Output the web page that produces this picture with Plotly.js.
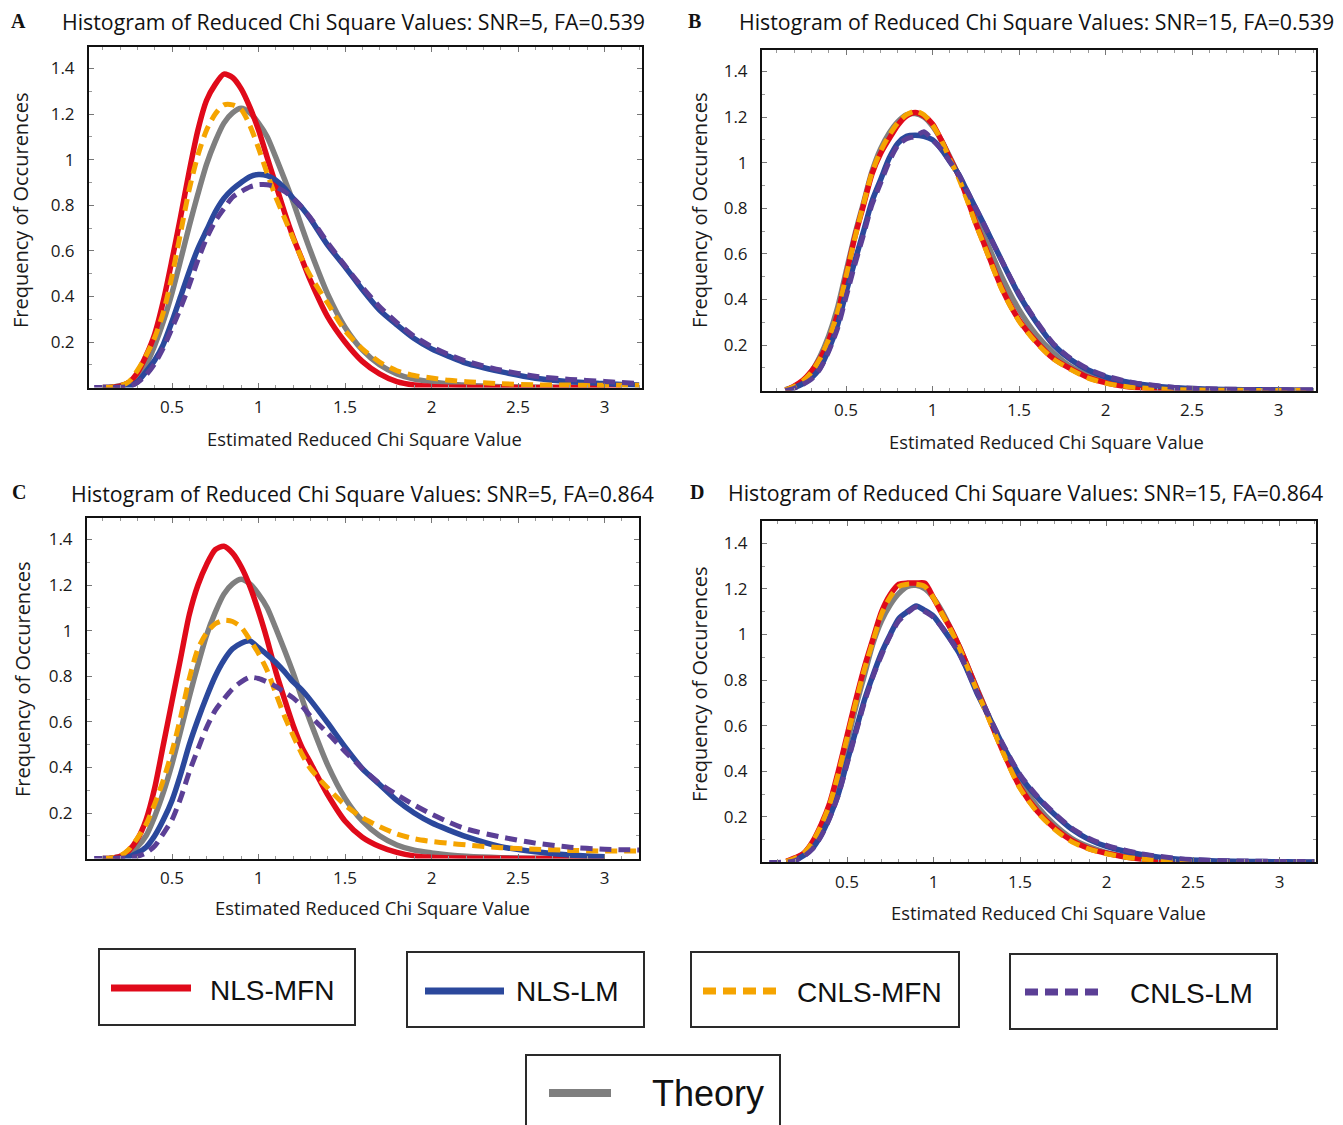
<!DOCTYPE html>
<html>
<head>
<meta charset="utf-8">
<script src="https://cdn.plot.ly/plotly-3.0.1.min.js"></script>
<style>html,body{margin:0;padding:0;background:#fff;}#chart{width:1343px;height:1125px;}</style>
</head>
<body>
<div id="chart"></div>
<script>
// ---------------- DATA ----------------
const xGrid = [0.05,0.1,0.15,0.2,0.25,0.3,0.35,0.4,0.45,0.5,0.55,0.6,0.65,0.7,0.75,0.8,0.85,0.9,0.95,1.0,1.05,1.1,1.15,1.2,1.25,1.3,1.4,1.5,1.6,1.7,1.8,1.9,2.0,2.1,2.2,2.4,2.6,2.8,3.0,3.1,3.2];

const seriesNames = ["Theory","NLS-MFN","NLS-LM","CNLS-MFN","CNLS-LM"];
const panelTitles = [
  "Histogram of Reduced Chi Square Values: SNR=5, FA=0.539",
  "Histogram of Reduced Chi Square Values: SNR=15, FA=0.539",
  "Histogram of Reduced Chi Square Values: SNR=5, FA=0.864",
  "Histogram of Reduced Chi Square Values: SNR=15, FA=0.864"
];
const panelLetters = ["A","B","C","D"];
const xAxisTitle = "Estimated Reduced Chi Square Value";
const yAxisTitle = "Frequency of Occurences";
const xTickVals = [0.5,1,1.5,2,2.5,3];
const xTickText = ["0.5","1","1.5","2","2.5","3"];
const yTickVals = [0.2,0.4,0.6,0.8,1,1.2,1.4];
const yTickText = ["0.2","0.4","0.6","0.8","1","1.2","1.4"];

// Theory curves
const theorySnr5 = [null,0,0.002,0.008,0.022,0.052,0.1,0.185,0.29,0.415,0.56,0.71,0.85,0.98,1.08,1.16,1.205,1.225,1.205,1.16,1.1,1.01,0.915,0.815,0.705,0.6,0.41,0.265,0.165,0.1,0.06,0.037,0.025,0.016,0.01,0.004,0.002,0.001,0,null,null];
const theorySnr15 = [null,null,0.004,0.017,0.04,0.083,0.15,0.24,0.36,0.52,0.68,0.82,0.96,1.06,1.13,1.18,1.21,1.215,1.2,1.16,1.1,1.025,0.945,0.855,0.765,0.675,0.5,0.355,0.245,0.165,0.105,0.068,0.043,0.027,0.017,0.006,0.002,0.001,0,0,0];

// Panel A: SNR=5, FA=0.539
const nlsMfnA  = [null,0,0.002,0.006,0.022,0.065,0.14,0.235,0.38,0.56,0.75,0.95,1.13,1.26,1.33,1.375,1.36,1.31,1.23,1.13,1.01,0.89,0.77,0.66,0.565,0.47,0.31,0.2,0.115,0.06,0.026,0.011,0.005,0.002,0.001,0,0,0,0,0,null];
const nlsLmA   = [null,0,0,0.001,0.005,0.025,0.07,0.12,0.19,0.29,0.4,0.51,0.61,0.69,0.77,0.83,0.87,0.9,0.925,0.935,0.93,0.91,0.875,0.83,0.79,0.74,0.625,0.53,0.43,0.34,0.275,0.215,0.17,0.137,0.107,0.07,0.041,0.026,0.018,0.014,0.011];
const cnlsMfnA = [null,0,0.002,0.008,0.025,0.075,0.14,0.22,0.33,0.49,0.68,0.87,1.02,1.13,1.2,1.24,1.24,1.22,1.15,1.05,0.94,0.835,0.745,0.655,0.565,0.49,0.37,0.25,0.17,0.112,0.074,0.053,0.042,0.032,0.026,0.017,0.012,0.011,0.01,0.01,0.01];
const cnlsLmA  = [0,0,0,0.001,0.005,0.022,0.055,0.105,0.175,0.26,0.35,0.45,0.56,0.655,0.73,0.785,0.835,0.86,0.88,0.89,0.89,0.88,0.86,0.83,0.79,0.745,0.635,0.535,0.44,0.355,0.285,0.225,0.18,0.145,0.116,0.077,0.05,0.036,0.027,0.022,0.018];

// Panel B: SNR=15, FA=0.539
const nlsMfnB  = [null,null,0.002,0.02,0.045,0.085,0.14,0.22,0.33,0.5,0.67,0.81,0.95,1.04,1.105,1.165,1.205,1.22,1.205,1.17,1.1,1.02,0.945,0.845,0.735,0.64,0.45,0.31,0.215,0.14,0.095,0.058,0.035,0.02,0.012,0.004,0.001,0,0,0,0];
const nlsLmB   = [null,null,0.002,0.013,0.03,0.055,0.1,0.18,0.285,0.43,0.565,0.695,0.83,0.925,1.02,1.085,1.115,1.12,1.115,1.1,1.06,1.005,0.95,0.875,0.8,0.725,0.57,0.42,0.3,0.2,0.135,0.09,0.06,0.041,0.028,0.012,0.006,0.004,0.003,0.002,0.002];
const cnlsMfnB = [null,null,0.003,0.018,0.042,0.08,0.14,0.225,0.34,0.5,0.665,0.815,0.955,1.05,1.12,1.175,1.21,1.225,1.21,1.165,1.1,1.015,0.935,0.835,0.73,0.635,0.445,0.305,0.21,0.138,0.092,0.055,0.033,0.02,0.012,0.004,0.002,0.001,0,0,0];
const cnlsLmB  = [null,null,0,0.01,0.027,0.05,0.095,0.172,0.27,0.41,0.55,0.68,0.815,0.91,1.005,1.075,1.105,1.115,1.135,1.1,1.06,1.005,0.95,0.875,0.8,0.725,0.57,0.425,0.305,0.205,0.14,0.095,0.065,0.045,0.03,0.014,0.008,0.005,0.004,0.003,0.003];

// Panel C: SNR=5, FA=0.864
const nlsMfnC  = [null,0,0.002,0.01,0.035,0.085,0.17,0.31,0.5,0.69,0.88,1.07,1.2,1.29,1.355,1.37,1.34,1.28,1.195,1.085,0.96,0.82,0.7,0.585,0.49,0.42,0.28,0.165,0.094,0.053,0.027,0.012,0.006,0.003,0.002,0.001,0,0,0,null,null];
const nlsLmC   = [null,0,0,0.002,0.008,0.025,0.05,0.1,0.17,0.255,0.37,0.5,0.61,0.71,0.8,0.87,0.92,0.945,0.955,0.925,0.895,0.86,0.82,0.775,0.74,0.695,0.595,0.49,0.395,0.325,0.255,0.2,0.157,0.125,0.096,0.052,0.03,0.016,0.008,null,null];
const cnlsMfnC = [null,0,0.003,0.012,0.04,0.09,0.15,0.24,0.345,0.47,0.62,0.79,0.92,0.99,1.03,1.045,1.04,1.015,0.96,0.9,0.825,0.725,0.625,0.54,0.46,0.395,0.31,0.235,0.18,0.14,0.108,0.087,0.075,0.067,0.06,0.048,0.041,0.036,0.033,0.033,0.033];
const cnlsLmC  = [0,0,0,0.001,0.005,0.01,0.025,0.055,0.11,0.17,0.265,0.38,0.48,0.575,0.65,0.7,0.745,0.775,0.795,0.79,0.775,0.755,0.73,0.705,0.67,0.625,0.55,0.47,0.395,0.33,0.28,0.235,0.195,0.16,0.13,0.095,0.068,0.05,0.041,0.039,0.038];

// Panel D: SNR=15, FA=0.864
const nlsMfnD  = [null,null,0.005,0.02,0.04,0.09,0.165,0.26,0.4,0.555,0.71,0.855,0.98,1.1,1.175,1.22,1.225,1.225,1.225,1.16,1.09,1.025,0.945,0.855,0.76,0.672,0.49,0.33,0.225,0.15,0.095,0.06,0.04,0.025,0.015,0.006,0.002,0.001,0,0,0];
const nlsLmD   = [null,null,0.002,0.01,0.03,0.062,0.12,0.2,0.3,0.44,0.575,0.71,0.82,0.92,1.0,1.07,1.1,1.125,1.105,1.08,1.03,0.975,0.915,0.835,0.745,0.67,0.515,0.38,0.285,0.21,0.145,0.1,0.07,0.05,0.035,0.015,0.007,0.004,0.003,0.002,0.002];
const cnlsMfnD = [null,null,0.004,0.018,0.04,0.088,0.16,0.255,0.39,0.545,0.7,0.845,0.97,1.09,1.165,1.21,1.22,1.22,1.21,1.16,1.09,1.02,0.94,0.85,0.755,0.665,0.485,0.325,0.22,0.145,0.09,0.058,0.038,0.024,0.015,0.006,0.002,0.001,0,0,0];
const cnlsLmD  = [0,0,0.001,0.008,0.027,0.058,0.115,0.195,0.295,0.43,0.565,0.7,0.815,0.91,0.995,1.06,1.095,1.12,1.1,1.075,1.03,0.975,0.915,0.835,0.75,0.675,0.52,0.385,0.29,0.215,0.15,0.105,0.075,0.055,0.038,0.018,0.009,0.006,0.004,0.004,0.003];

// ---------------- STYLE / LAYOUT ----------------
const W = 1343, H = 1125;
const fx = p => p / W;
const fy = p => 1 - p / H;

const styles = {
  "Theory":   {color:"#7f7f7f", width:5.5, dash:"solid"},
  "NLS-MFN":  {color:"#e00a1a", width:5.5, dash:"solid"},
  "NLS-LM":   {color:"#2b489c", width:5.5, dash:"solid"},
  "CNLS-MFN": {color:"#f5a400", width:5,   dash:"12px,7px"},
  "CNLS-LM":  {color:"#5b3f96", width:5,   dash:"12px,7px"}
};

const panelData = [
  {"Theory":theorySnr5,  "NLS-MFN":nlsMfnA, "NLS-LM":nlsLmA, "CNLS-MFN":cnlsMfnA, "CNLS-LM":cnlsLmA},
  {"Theory":theorySnr15, "NLS-MFN":nlsMfnB, "NLS-LM":nlsLmB, "CNLS-MFN":cnlsMfnB, "CNLS-LM":cnlsLmB},
  {"Theory":theorySnr5,  "NLS-MFN":nlsMfnC, "NLS-LM":nlsLmC, "CNLS-MFN":cnlsMfnC, "CNLS-LM":cnlsLmC},
  {"Theory":theorySnr15, "NLS-MFN":nlsMfnD, "NLS-LM":nlsLmD, "CNLS-MFN":cnlsMfnD, "CNLS-LM":cnlsLmD}
];

// pixel geometry of each panel frame
const geom = [
  {left:89,  right:642,  top:47,  bottom:387.6, xZero:85.5,  title:[354,21],  letter:[18,21],  xt:[364,438],  yt:[20,211]},
  {left:762, right:1316, top:50,  bottom:390.6, xZero:759.5, title:[1036,21], letter:[695,21], xt:[1046,441], yt:[699,211]},
  {left:87,  right:639,  top:518, bottom:858.6, xZero:85.5,  title:[362,493], letter:[19,492], xt:[372,907],  yt:[22,680]},
  {left:762, right:1316, top:521, bottom:862.4, xZero:760.5, title:[1025,492],letter:[697,492],xt:[1048,912], yt:[699,685]}
];
const pxPerX = 173, pxPerY = 228;

const traces = [];
const layout = {
  width: W, height: H,
  margin: {l:0, r:0, t:0, b:0},
  paper_bgcolor: "#ffffff",
  plot_bgcolor: "#ffffff",
  showlegend: false,
  font: {family: "Open Sans, sans-serif", color: "#1a1a1a"},
  annotations: [],
  shapes: []
};

const txtFont = "Open Sans, sans-serif";

geom.forEach((g, i) => {
  const n = i === 0 ? "" : String(i + 1);
  const xa = "xaxis" + n, ya = "yaxis" + n;
  const xr = "x" + n, yr = "y" + n;
  seriesNames.forEach(s => {
    const st = styles[s];
    traces.push({
      type: "scatter", mode: "lines",
      x: xGrid, y: panelData[i][s],
      xaxis: xr, yaxis: yr, name: s,
      line: {color: st.color, width: st.width, dash: st.dash, shape: "spline", smoothing: 0.7},
      cliponaxis: false, hoverinfo: "x+y+name"
    });
  });
  const common = {
    showline: true, linecolor: "#111", linewidth: 2, mirror: "ticks",
    ticks: "inside", ticklen: 5, tickwidth: 1, tickcolor: "#777",
    showgrid: false, zeroline: false, fixedrange: true,
    tickfont: {family: txtFont, size: 17, color: "#1a1a1a"},
    tickmode: "array"
  };
  layout[xa] = Object.assign({}, common, {
    domain: [fx(g.left), fx(g.right)],
    range: [(g.left - g.xZero) / pxPerX, (g.right - g.xZero) / pxPerX],
    anchor: yr,
    tickvals: xTickVals, ticktext: xTickText,
    ticklabelstandoff: 3,
    minor: {ticks: "inside", ticklen: 3, tickcolor: "#999", tickmode: "linear", tick0: 0, dtick: 0.1}
  });
  layout[ya] = Object.assign({}, common, {
    domain: [fy(g.bottom), fy(g.top)],
    range: [0, (g.bottom - g.top) / pxPerY],
    anchor: xr,
    tickvals: yTickVals, ticktext: yTickText,
    ticklabelstandoff: 9,
    minor: {ticks: "inside", ticklen: 3, tickcolor: "#999", tickmode: "linear", tick0: 0, dtick: 0.1}
  });
  layout.annotations.push({
    xref: "paper", yref: "paper", x: fx(g.title[0]), y: fy(g.title[1]),
    xanchor: "center", yanchor: "middle", showarrow: false,
    text: panelTitles[i], font: {family: txtFont, size: 21.3, color: "#111"}
  });
  layout.annotations.push({
    xref: "paper", yref: "paper", x: fx(g.letter[0]), y: fy(g.letter[1]),
    xanchor: "center", yanchor: "middle", showarrow: false,
    text: "<b>" + panelLetters[i] + "</b>", font: {family: "Liberation Serif, serif", size: 20, color: "#111"}
  });
  layout.annotations.push({
    xref: "paper", yref: "paper", x: fx(g.xt[0]), y: fy(g.xt[1]),
    xanchor: "center", yanchor: "middle", showarrow: false,
    text: xAxisTitle, font: {family: txtFont, size: 18.4, color: "#1a1a1a"}
  });
  layout.annotations.push({
    xref: "paper", yref: "paper", x: fx(g.yt[0]), y: fy(g.yt[1]),
    xanchor: "center", yanchor: "middle", showarrow: false, textangle: -90,
    text: yAxisTitle, font: {family: txtFont, size: 20, color: "#1a1a1a"}
  });
});

// ---------------- LEGEND (boxed keys) ----------------
const legendBoxes = [
  {name:"NLS-MFN",  box:[99,949,355,1025],  line:[111,191,988],  text:[272,990], size:28},
  {name:"NLS-LM",   box:[407,952,644,1027], line:[425,504,991],  text:[567,991], size:28},
  {name:"CNLS-MFN", box:[691,952,959,1027], line:[703,779,991],  text:[869,992], size:28},
  {name:"CNLS-LM",  box:[1010,954,1277,1029],line:[1025,1103,992],text:[1191,993], size:28},
  {name:"Theory",   box:[526,1055,780,1140], line:[549,611,1093], text:[708,1093], size:36}
];
legendBoxes.forEach(b => {
  const st = styles[b.name];
  layout.shapes.push({
    type: "rect", xref: "paper", yref: "paper",
    x0: fx(b.box[0]), x1: fx(b.box[2]), y0: fy(b.box[3]), y1: fy(b.box[1]),
    line: {color: "#2a2a2a", width: 2}, fillcolor: "rgba(0,0,0,0)"
  });
  layout.shapes.push({
    type: "line", xref: "paper", yref: "paper",
    x0: fx(b.line[0]), x1: fx(b.line[1]), y0: fy(b.line[2]), y1: fy(b.line[2]),
    line: {color: st.color, width: b.name === "Theory" ? 8 : 7, dash: st.dash === "solid" ? "solid" : "13px,7px"}
  });
  layout.annotations.push({
    xref: "paper", yref: "paper", x: fx(b.text[0]), y: fy(b.text[1]),
    xanchor: "center", yanchor: "middle", showarrow: false,
    text: b.name, font: {family: "Liberation Sans, Arial, sans-serif", size: b.size, color: "#111"}
  });
});

Plotly.newPlot("chart", traces, layout, {staticPlot: true, displayModeBar: false});
</script>
</body>
</html>
